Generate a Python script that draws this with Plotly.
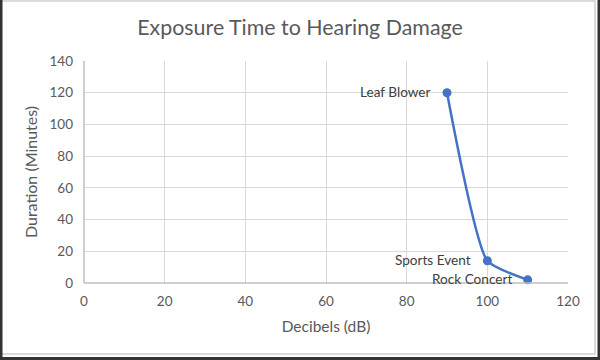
import plotly.graph_objects as go

decibels = [90, 100, 110]
minutes = [120, 14, 2]
labels = ["Leaf Blower", "Sports Event", "Rock Concert"]

W, H = 600, 360
L, R, T, B = 84, 32, 61, 77
pw, ph = W - L - R, H - T - B

def px(x):
    return (x - L) / pw

def py(y):
    return (H - B - y) / ph

font = "Lato, 'Open Sans', sans-serif"

fig = go.Figure()
fig.add_trace(go.Scatter(
    x=decibels, y=minutes, mode="lines+markers",
    line=dict(color="#4472C4", width=2.5, shape="spline", smoothing=0.5),
    marker=dict(color="#4472C4", size=9),
    cliponaxis=False, showlegend=False, hoverinfo="skip",
))

annotations = [
    dict(x=xv, y=yv, text=lab, xref="x", yref="y", showarrow=False,
         xanchor="right", yanchor="middle", xshift=-14, yshift=1,
         font=dict(size=13.6, color="#404040", family=font))
    for xv, yv, lab in zip(decibels, minutes, labels)
]

fig.update_layout(
    width=W, height=H,
    margin=dict(l=L, r=R, t=T, b=B),
    paper_bgcolor="white", plot_bgcolor="white",
    title=dict(text="Exposure Time to Hearing Damage", x=0.5, xanchor="center",
               y=1 - 28 / H, yanchor="middle",
               font=dict(size=21.4, color="#595959", family=font)),
    font=dict(family=font, color="#595959", size=13.5),
    annotations=annotations,
    xaxis=dict(range=[0, 120], dtick=20, showgrid=True, gridcolor="#d9d9d9",
               gridwidth=1, zeroline=False, showline=False,
               ticks="", ticklabelstandoff=8, tickfont=dict(size=13.5, color="#595959"),
               title=dict(text="Decibels (dB)", font=dict(size=15.5, color="#595959"), standoff=13)),
    yaxis=dict(range=[0, 140], dtick=20, showgrid=True, gridcolor="#d9d9d9",
               gridwidth=1, zeroline=False, showline=False,
               ticks="", ticklabelstandoff=10, tickfont=dict(size=13.5, color="#595959"),
               title=dict(text="Duration (Minutes)", font=dict(size=16, color="#595959"), standoff=7)),
    shapes=[
        dict(type="line", xref="paper", yref="paper", x0=0, x1=0, y0=0, y1=1,
             line=dict(color="#bfbfbf", width=1.5), layer="above"),
        dict(type="line", xref="paper", yref="paper", x0=0, x1=1, y0=0, y1=0,
             line=dict(color="#bfbfbf", width=1.5), layer="above"),
        dict(type="rect", xref="paper", yref="paper", x0=px(1), x1=px(595), y0=py(354), y1=py(1),
             line=dict(color="#d0d0d0", width=1.5)),
        dict(type="line", xref="paper", yref="paper", x0=px(1), x1=px(1), y0=py(0), y1=py(360),
             line=dict(color="#333333", width=3)),
        dict(type="line", xref="paper", yref="paper", x0=px(599), x1=px(599), y0=py(0), y1=py(360),
             line=dict(color="#333333", width=3)),
        dict(type="line", xref="paper", yref="paper", x0=px(0), x1=px(600), y0=py(358.5), y1=py(358.5),
             line=dict(color="#333333", width=3)),
    ],
)

fig.write_html("out.html", config={"displayModeBar": False},
               post_script="document.body.style.margin='0';document.body.style.overflow='hidden';")
